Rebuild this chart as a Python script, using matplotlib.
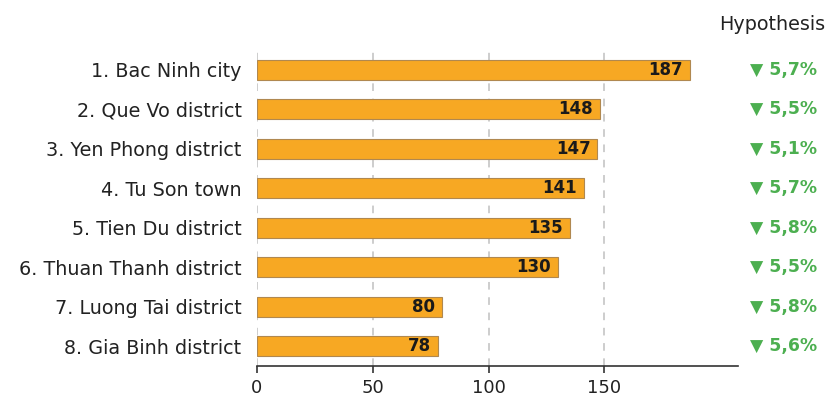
import matplotlib
matplotlib.use("Agg")
import matplotlib.pyplot as plt

districts = ["1. Bac Ninh city", "2. Que Vo district", "3. Yen Phong district",
             "4. Tu Son town", "5. Tien Du district", "6. Thuan Thanh district",
             "7. Luong Tai district", "8. Gia Binh district"]
values = [187, 148, 147, 141, 135, 130, 80, 78]
hypothesis = ["5,7%", "5,5%", "5,1%", "5,7%", "5,8%", "5,5%", "5,8%", "5,6%"]
xticks = [0, 50, 100, 150]

fig = plt.figure(figsize=(8.26, 3.96), dpi=100)
ax = fig.add_axes([0.311, 0.076, 0.582, 0.798])

pos = list(range(len(districts)))
ax.barh(pos, values, height=0.5, color="#F7A823", edgecolor="#B08850", linewidth=0.8, zorder=3)
for p, v in zip(pos, values):
    ax.text(v - 3, p, str(v), ha="right", va="center", fontsize=12, fontweight="bold", color="#1a1a1a", zorder=4)

ax.set_ylim(7.5, -0.5)
ax.set_xlim(0, 207.5)
ax.set_yticks(pos)
ax.set_yticklabels(districts, fontsize=13.8, color="#222222")
ax.set_xticks(xticks)
ax.set_xticklabels([str(t) for t in xticks], fontsize=13, color="#222222")
ax.tick_params(axis="y", length=0, pad=11)
ax.tick_params(axis="x", length=5, color="#333333", width=1.2, pad=4.5)
ax.xaxis.grid(True, linestyle=(0, (5, 5)), color="#c0c0c0", linewidth=1.1, zorder=0)
for s in ["top", "right", "left"]:
    ax.spines[s].set_visible(False)
ax.spines["bottom"].set_color("#333333")
ax.spines["bottom"].set_linewidth(1.2)

for p, h in zip(pos, hypothesis):
    ax.text(1.095, p, "▼ " + h, transform=ax.get_yaxis_transform(), ha="center", va="center",
            fontsize=12.4, fontweight="bold", color="#4CAF50")
fig.text(0.935, 0.937, "Hypothesis", ha="center", va="center", fontsize=13.8, color="#222222")

fig.savefig("out.png", dpi=100)
